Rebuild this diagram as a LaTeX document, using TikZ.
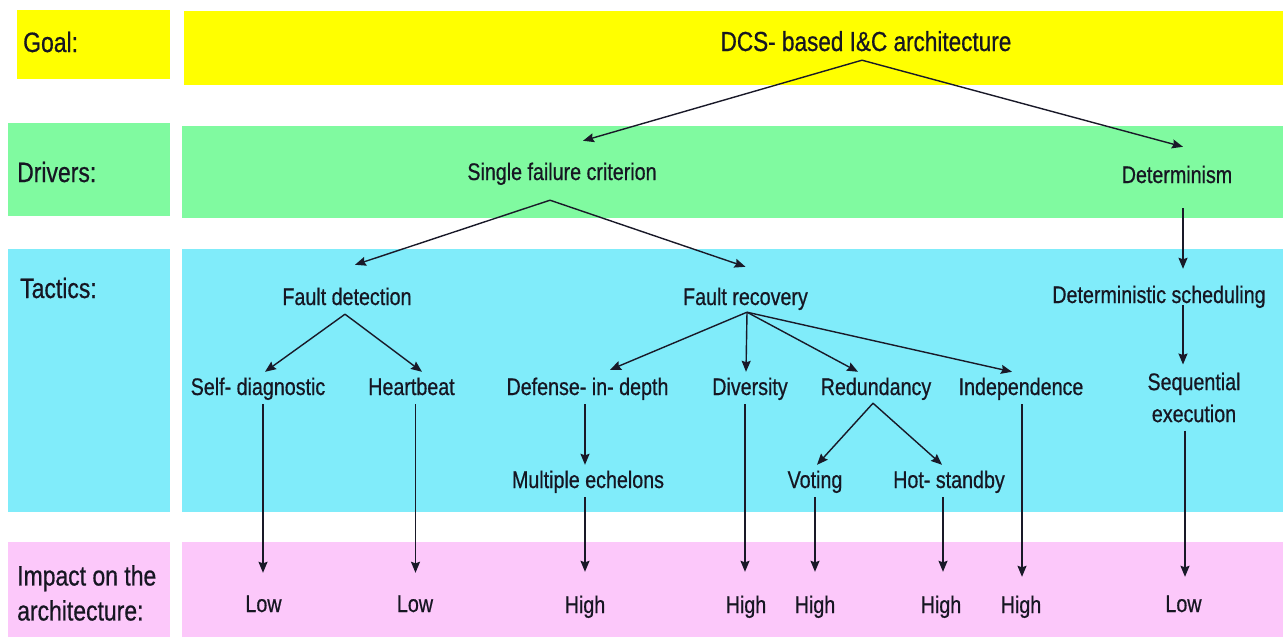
\documentclass[tikz,border=0pt]{standalone}
\usepackage{fontspec}
\setmainfont{Liberation Sans}[FakeStretch=0.82,FakeBold=0.6]
\usetikzlibrary{arrows.meta}
\definecolor{goalc}{RGB}{255,255,0}
\definecolor{drvc}{RGB}{128,250,160}
\definecolor{tacc}{RGB}{128,236,250}
\definecolor{impc}{RGB}{252,200,250}
\definecolor{txtc}{RGB}{22,22,34}
\definecolor{linec}{RGB}{25,25,40}
\begin{document}
\begin{tikzpicture}[x=1pt,y=-1pt,
  lbl/.style={anchor=base west,inner sep=0pt,text=txtc,font=\fontsize{28}{35}\selectfont},
  itm/.style={anchor=base,inner xsep=0pt,inner ysep=4pt,text height=17pt,text depth=5pt,text=txtc,font=\fontsize{24}{32}\selectfont},
  arr/.style={draw=linec,line width=1.4pt,-{Stealth[length=11pt,width=9pt,inset=1.5pt]}}]
\useasboundingbox (0,0) rectangle (1283,637);
% bands
\fill[goalc] (17,10) rectangle (170,79);
\fill[goalc] (184,11) rectangle (1283,85);
\fill[drvc] (8,123) rectangle (170,216);
\fill[drvc] (182,126) rectangle (1283,218);
\fill[tacc] (8,249) rectangle (170,512);
\fill[tacc] (182,249) rectangle (1283,512);
\fill[impc] (8,542) rectangle (170,637);
\fill[impc] (182,542) rectangle (1283,637);
% row labels
\node[lbl] (lgoal) at (23,52) {Goal:};
\node[lbl] (ldrv) at (17,182) {Drivers:};
\node[lbl] (ltac) at (20,298) {Tactics:};
\node[lbl,anchor=north west,align=left] (limp) at (17,565) {Impact on the\\architecture:};
% items
\node[itm,font=\fontsize{27.5}{32}\selectfont] (dcs) at (866,51) {DCS- based I\&C architecture};
\node[itm] (sfc) at (562,180) {Single failure criterion};
\node[itm] (det) at (1177,183) {Determinism};
\node[itm] (fd) at (347,305) {Fault detection};
\node[itm] (fr) at (745.5,305) {Fault recovery};
\node[itm] (ds) at (1159,303) {Deterministic scheduling};
\node[itm] (sd) at (258,395) {Self- diagnostic};
\node[itm] (hb) at (411.5,395) {Heartbeat};
\node[itm] (did) at (587.5,395) {Defense- in- depth};
\node[itm] (div) at (750,395) {Diversity};
\node[itm] (red) at (876,395) {Redundancy};
\node[itm] (ind) at (1021,395) {Independence};
\node[anchor=north,inner xsep=0pt,inner ysep=4pt,align=center,text=txtc,font=\fontsize{24}{32}\selectfont] (seq) at (1194,368.5) {Sequential\\execution};
\node[itm] (me) at (588,488) {Multiple echelons};
\node[itm] (vot) at (815,488) {Voting};
\node[itm] (hs) at (949,488) {Hot- standby};
\node[itm] (low1) at (263.5,612) {Low};
\node[itm] (low2) at (415,612) {Low};
\node[itm] (high1) at (585,613) {High};
\node[itm] (high2) at (746,613) {High};
\node[itm] (high3) at (815,613) {High};
\node[itm] (high4) at (941,613) {High};
\node[itm] (high5) at (1021,613) {High};
\node[itm] (low3) at (1183.5,612) {Low};
% connectors
\draw[arr] ([xshift=-4pt]dcs.south) -- ([xshift=21pt,yshift=18pt]sfc.north);
\draw[arr] ([xshift=-4pt]dcs.south) -- ([xshift=6pt,yshift=15pt]det.north);
\draw[arr] ([xshift=-12pt,yshift=-11pt]sfc.south) -- ([xshift=8pt,yshift=19pt]fd.north);
\draw[arr] ([xshift=-12pt,yshift=-11pt]sfc.south) -- ([yshift=17pt]fr.north);
\draw[arr] ([xshift=6pt,yshift=-16pt]det.south) -- ([xshift=24pt,yshift=13pt]ds.north);
\draw[arr] ([xshift=24pt,yshift=7pt]ds.south) -- ([xshift=-11pt,yshift=4pt]seq.north);
\draw[arr] ([xshift=-9pt,yshift=-4pt]seq.south) -- ([xshift=1.5pt,yshift=14pt]low3.north);
\draw[arr] ([xshift=-2pt]fd.south) -- ([xshift=7pt,yshift=2pt]sd.north);
\draw[arr] ([xshift=-2pt]fd.south) -- ([xshift=10.5pt,yshift=2pt]hb.north);
\draw[arr] ([xshift=1.5pt,yshift=2pt]fr.south) -- ([xshift=22.5pt,yshift=4pt]did.north);
\draw[arr] ([xshift=1.5pt,yshift=2pt]fr.south) -- ([xshift=-4pt,yshift=2pt]div.north);
\draw[arr] ([xshift=1.5pt,yshift=2pt]fr.south) -- ([xshift=-18pt,yshift=2pt]red.north);
\draw[arr] ([xshift=1.5pt,yshift=2pt]fr.south) -- ([xshift=-9pt,yshift=2pt]ind.north);
\draw[arr] ([xshift=-3pt,yshift=1pt]red.south) -- ([xshift=2pt,yshift=2pt]vot.north);
\draw[arr] ([xshift=-3pt,yshift=1pt]red.south) -- ([xshift=-7pt,yshift=2pt]hs.north);
\draw[arr] ([xshift=-2.5pt]did.south) -- ([xshift=-3pt,yshift=2pt]me.north);
\draw[arr] ([xshift=5pt]sd.south) -- ([xshift=-0.5pt,yshift=18pt]low1.north);
\draw[arr] ([xshift=4pt]hb.south) -- ([xshift=0.5pt,yshift=18pt]low2.north);
\draw[arr] ([xshift=-3pt]me.south) -- ([yshift=20pt]high1.north);
\draw[arr] ([xshift=-5pt]div.south) -- ([xshift=-1pt,yshift=20pt]high2.north);
\draw[arr] (vot.south) -- ([yshift=20pt]high3.north);
\draw[arr] ([xshift=-6pt]hs.south) -- ([xshift=2pt,yshift=20pt]high4.north);
\draw[arr] ([xshift=1pt]ind.south) -- ([xshift=1pt,yshift=15pt]high5.north);
\end{tikzpicture}
\end{document}
